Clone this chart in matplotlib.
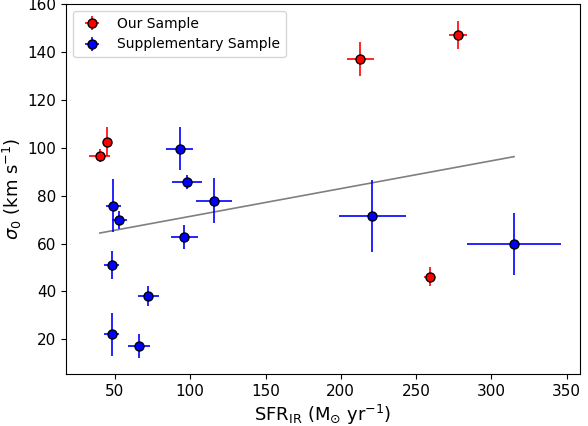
import matplotlib.pyplot as plt
import numpy as np

# Our Sample (red)
our_sfr = [40, 45, 213, 278, 259]
our_sfr_err = [7, 2, 9, 6, 3.5]
our_sig = [96.7, 102.6, 137.3, 147.3, 46.1]
our_sig_err = [2.7, 6, 7, 6, 4]

# Supplementary Sample (blue)
sup_sfr = [93, 98, 116, 49, 53, 48, 72, 48, 66, 96, 221, 315]
sup_sfr_err = [9, 10, 12, 5, 5, 5, 7, 5, 7, 9, 22, 31]
sup_sig = [99.6, 85.7, 78, 75.9, 69.9, 51.1, 38.1, 22.2, 17.3, 62.9, 71.7, 59.9]
sup_sig_err = [9, 3, 9.5, 11, 3.7, 6, 4, 9, 5, 5, 15, 13]

# linear fit
fit_slope = 0.1161
fit_icpt = 59.8

fig = plt.figure(figsize=(5.88, 4.26), dpi=100)
ax = fig.add_axes([0.1122, 0.1221, 0.8741, 0.8685])

ax.errorbar(our_sfr, our_sig, xerr=our_sfr_err, yerr=our_sig_err, fmt='o',
            color='red', ecolor='red', mec='black', ms=6.5, elinewidth=1.2,
            label='Our Sample', zorder=3)
ax.errorbar(sup_sfr, sup_sig, xerr=sup_sfr_err, yerr=sup_sig_err, fmt='o',
            color='blue', ecolor='blue', mec='black', ms=6.5, elinewidth=1.2,
            label='Supplementary Sample', zorder=3)

xs = np.array([min(our_sfr + sup_sfr), max(our_sfr + sup_sfr)])
ax.plot(xs, fit_slope * xs + fit_icpt, color='grey', lw=1.2, zorder=2)

ax.set_xlabel(r'SFR$_{\rm IR}$ (M$_{\odot}$ yr$^{-1}$)', fontsize=13, labelpad=3)
ax.set_ylabel(r'$\sigma_0$ (km s$^{-1}$)', fontsize=13, labelpad=2)
ax.set_xticks([50, 100, 150, 200, 250, 300, 350])
ax.set_yticks([20, 40, 60, 80, 100, 120, 140, 160])
ax.set_xlim(17.5, 358.8)
ax.set_ylim(5.5, 160.2)
ax.tick_params(labelsize=11)
ax.legend(loc='upper left', fontsize=10)

plt.savefig('out.png', dpi=100)
